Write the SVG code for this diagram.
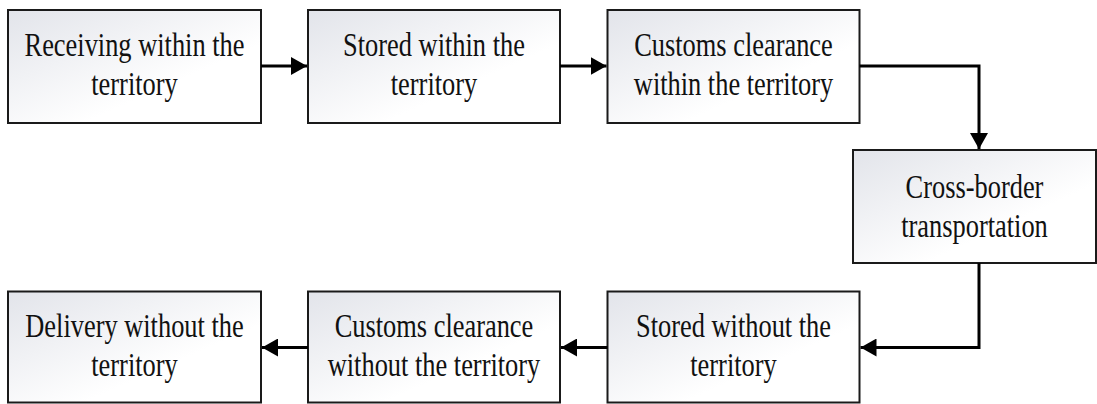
<svg xmlns="http://www.w3.org/2000/svg" width="1097" height="404" viewBox="0 0 1097 404">
  <defs>
    <linearGradient id="boxFill" x1="0" y1="0" x2="1" y2="1">
      <stop offset="0" stop-color="#e2e4ea"/>
      <stop offset="0.65" stop-color="#ffffff"/>
      <stop offset="1" stop-color="#ffffff"/>
    </linearGradient>
    <marker id="arrow" markerUnits="userSpaceOnUse" markerWidth="16" markerHeight="18" refX="16" refY="9" orient="auto">
      <path d="M0,0 L16,9 L0,18 Z" fill="#000"/>
    </marker>
  </defs>
  <style>
    .box { fill: url(#boxFill); stroke: #1a1a1a; stroke-width: 2; }
    .lbl { font-family: "Liberation Serif", "Times New Roman", serif; font-size: 33px; fill: #111; text-anchor: middle; }
    .conn { fill: none; stroke: #000; stroke-width: 3; marker-end: url(#arrow); }
  </style>
  <rect width="1097" height="404" fill="#ffffff"/>

  <g id="node-receiving-within">
    <rect class="box" x="8" y="10" width="253" height="113"/>
    <text class="lbl" transform="translate(134.5,0) scale(0.8,1)"><tspan x="0" y="56">Receiving within the</tspan><tspan x="0" y="95">territory</tspan></text>
  </g>
  <g id="node-stored-within">
    <rect class="box" x="308" y="10" width="252" height="113"/>
    <text class="lbl" transform="translate(434,0) scale(0.8,1)"><tspan x="0" y="56">Stored within the</tspan><tspan x="0" y="95">territory</tspan></text>
  </g>
  <g id="node-customs-within">
    <rect class="box" x="607.5" y="10" width="252" height="113"/>
    <text class="lbl" transform="translate(733.5,0) scale(0.8,1)"><tspan x="0" y="56">Customs clearance</tspan><tspan x="0" y="95">within the territory</tspan></text>
  </g>
  <g id="node-cross-border">
    <rect class="box" x="853" y="150" width="243" height="113"/>
    <text class="lbl" transform="translate(974.5,0) scale(0.8,1)"><tspan x="0" y="198">Cross-border</tspan><tspan x="0" y="237">transportation</tspan></text>
  </g>
  <g id="node-stored-without">
    <rect class="box" x="607.5" y="291.5" width="252" height="111"/>
    <text class="lbl" transform="translate(733.5,0) scale(0.8,1)"><tspan x="0" y="337">Stored without the</tspan><tspan x="0" y="376">territory</tspan></text>
  </g>
  <g id="node-customs-without">
    <rect class="box" x="308" y="291.5" width="252" height="111"/>
    <text class="lbl" transform="translate(434,0) scale(0.8,1)"><tspan x="0" y="337">Customs clearance</tspan><tspan x="0" y="376">without the territory</tspan></text>
  </g>
  <g id="node-delivery-without">
    <rect class="box" x="8" y="291.5" width="253" height="111"/>
    <text class="lbl" transform="translate(134.5,0) scale(0.8,1)"><tspan x="0" y="337">Delivery without the</tspan><tspan x="0" y="376">territory</tspan></text>
  </g>

  <g id="connectors">
    <path class="conn" d="M261,66 H307"/>
    <path class="conn" d="M560,66 H606.5"/>
    <path class="conn" d="M859.5,66 H979 V149"/>
    <path class="conn" d="M979,263 V347.5 H860.5"/>
    <path class="conn" d="M607.5,347.5 H561"/>
    <path class="conn" d="M308,347.5 H262"/>
  </g>
</svg>
